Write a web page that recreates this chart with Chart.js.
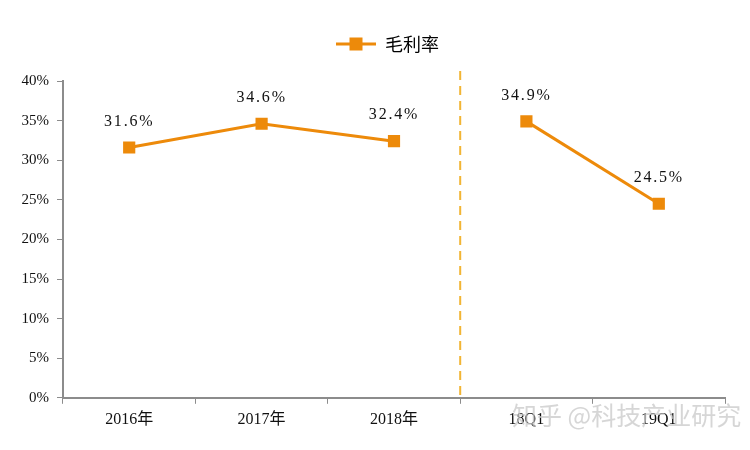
<!DOCTYPE html>
<html>
<head>
<meta charset="utf-8">
<script src="https://cdn.jsdelivr.net/npm/chart.js@4/dist/chart.umd.min.js"></script>
<style>
  html, body { margin: 0; padding: 0; background: #fff; }
</style>
</head>
<body>
<canvas id="marginChart" width="750" height="450"></canvas>
<script>
// Gross margin data
const categories = ['2016年', '2017年', '2018年', '18Q1', '19Q1'];
const grossMargin = [31.6, 34.6, 32.4, 34.9, 24.5];
const seriesName = '毛利率';
const yTicks = [0, 5, 10, 15, 20, 25, 30, 35, 40];
const breakAfter = 2; // line breaks between 2018年 and 18Q1

const orange = '#ED8A0A';
const axisGrey = '#8c8c8c';
const serif = '"Liberation Serif", "Noto Sans CJK SC", serif';

// legend marker: short line with a square in the middle
const legendIcon = document.createElement('canvas');
legendIcon.width = 40; legendIcon.height = 14;
(() => {
    const c = legendIcon.getContext('2d');
    c.strokeStyle = orange; c.lineWidth = 3;
    c.beginPath(); c.moveTo(0, 7); c.lineTo(40, 7); c.stroke();
    c.fillStyle = orange; c.fillRect(13.5, 0.5, 13, 13);
})();

// legend spacing + shift to the right, like the original
const legendTweak = {
    id: 'legendTweak',
    beforeInit(chart) {
        const fit = chart.legend.fit;
        chart.legend.fit = function () {
            fit.call(this);
            this.height += 18;
        };
    },
    afterLayout(chart) {
        chart.legend.left += 25;
        chart.legend.right += 25;
    }
};

// labels above points, dashed divider, watermark
const extras = {
    id: 'extras',
    afterDatasetsDraw(chart) {
        const ctx = chart.ctx;
        const x = chart.scales.x;
        const meta = chart.getDatasetMeta(0);

        // dashed divider
        const dx = (x.getPixelForValue(breakAfter) + x.getPixelForValue(breakAfter + 1)) / 2;
        ctx.save();
        ctx.strokeStyle = '#F2B534';
        ctx.lineWidth = 2;
        ctx.setLineDash([9, 6]);
        ctx.beginPath();
        ctx.moveTo(dx, chart.chartArea.top - 10);
        ctx.lineTo(dx, chart.chartArea.bottom);
        ctx.stroke();
        ctx.restore();

        // value labels
        ctx.save();
        ctx.font = '16px ' + serif;
        ctx.fillStyle = '#111';
        ctx.textAlign = 'center';
        ctx.textBaseline = 'middle';
        ctx.letterSpacing = '1.8px';
        meta.data.forEach((pt, i) => {
            ctx.fillText(grossMargin[i].toFixed(1) + '%', pt.x, pt.y - 26);
        });
        ctx.restore();
    },
    afterDraw(chart) {
        const ctx = chart.ctx;
        ctx.save();
        ctx.font = '25px "Noto Sans CJK SC", sans-serif';
        ctx.fillStyle = 'rgba(200,200,200,0.75)';
        ctx.textAlign = 'left';
        ctx.textBaseline = 'middle';
        ctx.fillText('知乎 @科技产业研究', 512, 415);
        ctx.restore();
    }
};

new Chart(document.getElementById('marginChart'), {
    type: 'line',
    data: {
        labels: categories,
        datasets: [{
            label: seriesName,
            data: grossMargin,
            borderColor: orange,
            backgroundColor: orange,
            borderWidth: 3,
            pointStyle: 'rect',
            pointRadius: 6.5,
            pointHoverRadius: 6.5,
            pointBackgroundColor: orange,
            pointBorderColor: orange,
            tension: 0,
            segment: {
                borderColor: c => c.p0DataIndex === breakAfter ? 'rgba(0,0,0,0)' : undefined
            }
        }]
    },
    options: {
        responsive: false,
        animation: false,
        layout: { padding: { top: 23, right: 25, bottom: 15, left: 0 } },
        plugins: {
            legend: {
                position: 'top',
                labels: {
                    usePointStyle: true,
                    pointStyleWidth: 40,
                    generateLabels: () => [{
                        text: seriesName,
                        pointStyle: legendIcon,
                        fillStyle: orange,
                        strokeStyle: orange,
                        lineWidth: 0,
                        datasetIndex: 0
                    }],
                    color: '#222',
                    font: { family: '"Noto Sans CJK SC", sans-serif', size: 18 },
                    padding: 12
                }
            },
            tooltip: { enabled: false }
        },
        scales: {
            x: {
                offset: true,
                grid: {
                    display: true,
                    offset: true,
                    drawOnChartArea: false,
                    drawTicks: true,
                    tickLength: 6,
                    color: axisGrey
                },
                border: { color: axisGrey, width: 2 },
                ticks: {
                    color: '#111',
                    font: { family: serif, size: 16 },
                    padding: 6,
                    maxRotation: 0
                }
            },
            y: {
                min: 0,
                max: 40,
                afterBuildTicks: s => { s.ticks = yTicks.map(v => ({ value: v })); },
                afterFit: s => { s.width = 63; },
                grid: {
                    display: true,
                    drawOnChartArea: false,
                    drawTicks: true,
                    tickLength: 6,
                    color: axisGrey
                },
                border: { color: axisGrey, width: 2 },
                ticks: {
                    color: '#111',
                    font: { family: serif, size: 15 },
                    padding: 8,
                    callback: v => v + '%'
                }
            }
        }
    },
    plugins: [legendTweak, extras]
});
</script>
</body>
</html>
